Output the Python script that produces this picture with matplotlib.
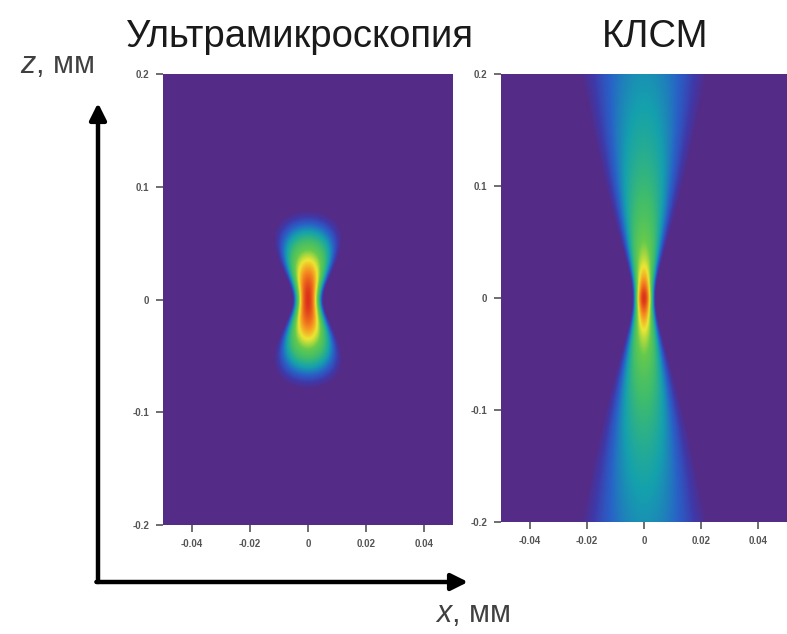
import numpy as np
import matplotlib
matplotlib.use("Agg")
import matplotlib.pyplot as plt
from matplotlib.colors import LinearSegmentedColormap

plt.rcParams['font.family'] = ['Liberation Sans', 'DejaVu Sans']
plt.rcParams['axes.unicode_minus'] = False
plt.rcParams['mathtext.fontset'] = 'custom'
plt.rcParams['mathtext.it'] = 'Liberation Sans:italic'
plt.rcParams['mathtext.rm'] = 'Liberation Sans'

# ---- data / parameters ----
titles = ["Ультрамикроскопия", "КЛСМ"]
x_label = "$x$, мм"
z_label = "$z$, мм"
x_ticks = [-0.04, -0.02, 0, 0.02, 0.04]
x_ticklabels = ["-0.04", "-0.02", "0", "0.02", "0.04"]
z_ticks = [-0.2, -0.1, 0, 0.1, 0.2]
z_ticklabels = ["-0.2", "-0.1", "0", "0.1", "0.2"]
x_range = [-0.05, 0.05]
z_range = [-0.2, 0.2]

# beam parameters (mm) for each panel: [ultramicroscopy, confocal]
waist_w0 = [0.0024, 0.0019]        # beam waist
width_zr = [0.018, 0.022]          # range over which the width grows
peak_zr = [0.030, 0.010]           # range over which the on-axis peak halves
sheet_thickness = [0.040, None]    # light-sheet envelope (ultramicroscopy only)
log_decades = [4.3, 4.0]           # displayed dynamic range (log scale)

cmap = LinearSegmentedColormap.from_list("psf", [
    (0.00, (0.33, 0.17, 0.53)),
    (0.12, (0.25, 0.22, 0.66)),
    (0.25, (0.16, 0.38, 0.78)),
    (0.38, (0.08, 0.63, 0.68)),
    (0.52, (0.25, 0.74, 0.42)),
    (0.64, (0.40, 0.79, 0.30)),
    (0.76, (0.93, 0.90, 0.20)),
    (0.87, (0.96, 0.55, 0.12)),
    (1.00, (0.86, 0.20, 0.10)),
])

def psf(i):
    x = np.linspace(x_range[0], x_range[1], 400)
    z = np.linspace(z_range[0], z_range[1], 800)
    X, Z = np.meshgrid(x, z)
    w = waist_w0[i] * np.sqrt(1 + (Z / width_zr[i]) ** 2)
    peak = 1 / (1 + (Z / peak_zr[i]) ** 2)
    I = peak * np.exp(-2 * X ** 2 / w ** 2)
    if sheet_thickness[i] is not None:
        I = I * np.exp(-2 * Z ** 2 / sheet_thickness[i] ** 2)
    v = 1 + np.log10(np.maximum(I, 1e-12)) / log_decades[i]
    return np.clip(v, 0, 1)

fig = plt.figure(figsize=(7.87, 6.34), dpi=100)

ax_pos = [
    [163 / 787, 1 - 525 / 634, 290 / 787, 451 / 634],
    [501 / 787, 1 - 522 / 634, 286 / 787, 448 / 634],
]

for i in range(2):
    ax = fig.add_axes(ax_pos[i])
    ax.imshow(psf(i), extent=[x_range[0], x_range[1], z_range[0], z_range[1]],
              origin='lower', aspect='auto', cmap=cmap, vmin=0, vmax=1,
              interpolation='bilinear')
    ax.set_xlim(x_range)
    ax.set_ylim(z_range)
    ax.set_xticks(x_ticks)
    ax.set_xticklabels(x_ticklabels)
    ax.set_yticks(z_ticks)
    ax.set_yticklabels(z_ticklabels)
    ax.tick_params(labelsize=7, colors='#555555', length=5, width=1.2, pad=5)
    for lab in ax.get_xticklabels() + ax.get_yticklabels():
        lab.set_fontweight('bold')
    for s in ax.spines.values():
        s.set_visible(False)

# titles
fig.text(300 / 787, 1 - 37 / 634, titles[0], fontsize=27.5, color='#1a1a1a',
         ha='center', va='center')
fig.text(655 / 787, 1 - 37 / 634, titles[1], fontsize=27.5, color='#1a1a1a',
         ha='center', va='center')

# big axes arrows
ox, oy = 98 / 787, 1 - 582 / 634
fig.add_artist(matplotlib.patches.FancyArrowPatch(
    (ox, oy), (ox, 1 - 103 / 634), transform=fig.transFigure,
    arrowstyle='-|>,head_length=10,head_width=5', lw=3.2, color='black',
    shrinkA=0, shrinkB=0))
fig.add_artist(matplotlib.patches.FancyArrowPatch(
    (ox - 1.6 / 787, oy), (468 / 787, oy), transform=fig.transFigure,
    arrowstyle='-|>,head_length=10,head_width=5', lw=3.2, color='black',
    shrinkA=0, shrinkB=0))

fig.text(57 / 787, 1 - 65 / 634, z_label, fontsize=22, color='#404040',
         ha='center', va='center')
fig.text(473 / 787, 1 - 614 / 634, x_label, fontsize=22, color='#404040',
         ha='center', va='center')

fig.savefig("out.png", dpi=100)
